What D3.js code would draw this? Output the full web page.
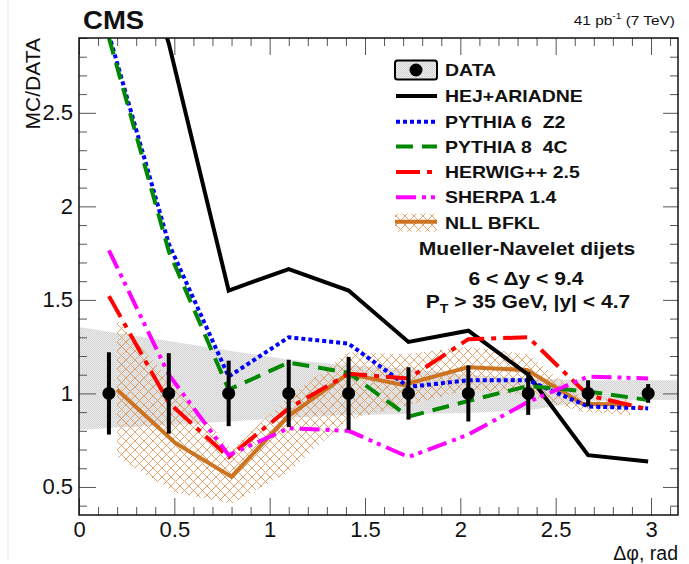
<!DOCTYPE html>
<html>
<head>
<meta charset="utf-8">
<script src="https://cdn.jsdelivr.net/npm/d3@7"></script>
<style>
  body { margin: 0; background: #fff; }
  svg { display: block; }
  text { font-family: "Liberation Sans", Arial, Helvetica, sans-serif; white-space: pre; }
</style>
</head>
<body>
<svg id="chart" width="689" height="564"></svg>
<script>
// ---- data: ratio MC/DATA versus delta-phi (10 bins in [0, pi]) ----
const dphi       = [0.157, 0.471, 0.785, 1.100, 1.414, 1.728, 2.042, 2.356, 2.670, 2.985];
const dataRatio  = [1, 1, 1, 1, 1, 1, 1, 1, 1, 1];
const dataErr    = [0.22, 0.215, 0.175, 0.18, 0.195, 0.14, 0.15, 0.115, 0.07, 0.05];

// systematic band of the data (edges included)
const sysX   = [0, 0.157, 0.471, 0.785, 1.100, 1.414, 1.728, 2.042, 2.356, 2.670, 2.985, 3.1416];
const sysUp  = [1.355, 1.33, 1.28, 1.23, 1.18, 1.15, 1.13, 1.10, 1.08, 1.07, 1.07, 1.07];
const sysLow = [0.805, 0.815, 0.83, 0.85, 0.87, 0.885, 0.89, 0.895, 0.91, 0.96, 0.965, 0.965];

// generator predictions
const hejAriadne = [3.9, 2.87, 1.55, 1.665, 1.55, 1.275, 1.335, 1.10, 0.67, 0.636];
const pythia6Z2  = [2.92, 1.80, 1.09, 1.30, 1.266, 1.035, 1.07, 1.07, 0.93, 0.92];
const pythia84C  = [2.90, 1.76, 1.02, 1.165, 1.11, 0.876, 0.96, 1.04, 1.01, 0.965];
const herwig25   = [1.52, 0.95, 0.66, 0.92, 1.105, 1.08, 1.29, 1.30, 0.99, 0.915];
const sherpa14   = [1.765, 1.10, 0.67, 0.814, 0.80, 0.66, 0.78, 0.955, 1.09, 1.08];

// NLL BFKL calculation with its uncertainty band
const bfklX   = [0.20, 0.505, 0.80, 1.10, 1.41, 1.70, 2.04, 2.35, 2.64, 2.89];
const bfklMid = [1.02, 0.735, 0.555, 0.88, 1.105, 1.045, 1.14, 1.125, 0.945, 0.94];
const bfklUp  = [1.39, 1.04, 0.70, 0.98, 1.22, 1.21, 1.25, 1.21, 0.98, 0.965];
const bfklLow = [0.66, 0.47, 0.41, 0.58, 0.86, 0.93, 1.02, 0.99, 0.90, 0.885];

// axis ticks
const xTicks = [0, 0.5, 1, 1.5, 2, 2.5, 3];
const yTicks = [0.5, 1, 1.5, 2, 2.5];

// legend entries
const legendLabels = ["DATA", "HEJ+ARIADNE", "PYTHIA 6  Z2", "PYTHIA 8  4C", "HERWIG++ 2.5", "SHERPA 1.4", "NLL BFKL"];

// ---- layout ----
const frame = { left: 79, right: 678, top: 38, bottom: 515 };
const svg = d3.select("#chart");

const x = d3.scaleLinear().domain([0, Math.PI]).range([frame.left, frame.right]);
const y = d3.scaleLinear().domain([0.35, 2.9]).range([frame.bottom, frame.top]);

const defs = svg.append("defs");
defs.append("clipPath").attr("id", "plotClip")
  .append("rect")
  .attr("x", frame.left).attr("y", frame.top)
  .attr("width", frame.right - frame.left).attr("height", frame.bottom - frame.top);

// stippled grey fill for the data systematic band
const stip = defs.append("pattern").attr("id", "stipple")
  .attr("width", 2).attr("height", 2).attr("patternUnits", "userSpaceOnUse");
stip.append("rect").attr("width", 2).attr("height", 2).attr("fill", "#ececec");
stip.append("rect").attr("x", 0).attr("y", 0).attr("width", 1).attr("height", 1).attr("fill", "#cfcfcf");
stip.append("rect").attr("x", 1).attr("y", 1).attr("width", 1).attr("height", 1).attr("fill", "#d8d8d8");

// orange cross hatch for the BFKL band
const hatch = defs.append("pattern").attr("id", "crossHatch")
  .attr("width", 9).attr("height", 9).attr("patternUnits", "userSpaceOnUse");
hatch.append("path")
  .attr("d", "M0,0L9,9M9,0L0,9")
  .attr("stroke", "#dc9a5e").attr("stroke-width", 0.9).attr("fill", "none");

// faint vertical line along the left margin
svg.append("line")
  .attr("x1", 8).attr("x2", 8).attr("y1", 0).attr("y2", 560)
  .attr("stroke", "#f4def4").attr("stroke-width", 1);

const plot = svg.append("g").attr("clip-path", "url(#plotClip)");

// data systematic band
const sysArea = d3.area()
  .x((d, i) => x(sysX[i]))
  .y0((d, i) => y(sysLow[i]))
  .y1((d, i) => y(sysUp[i]));
plot.append("path").datum(sysX).attr("d", sysArea).attr("fill", "url(#stipple)");

// BFKL uncertainty band
const bfklArea = d3.area()
  .x((d, i) => x(bfklX[i]))
  .y0((d, i) => y(bfklLow[i]))
  .y1((d, i) => y(bfklUp[i]));
plot.append("path").datum(bfklX).attr("d", bfklArea).attr("fill", "url(#crossHatch)");

// model curves
const series = [
  { name: "bfkl",   xs: bfklX, ys: bfklMid,    color: "#cc7422", dash: null },
  { name: "hej",    xs: dphi,  ys: hejAriadne, color: "#000000", dash: null },
  { name: "py6",    xs: dphi,  ys: pythia6Z2,  color: "#0000ff", dash: "4,3" },
  { name: "py8",    xs: dphi,  ys: pythia84C,  color: "#008800", dash: "17,9" },
  { name: "herwig", xs: dphi,  ys: herwig25,   color: "#ff0000", dash: "24,7,5,7" },
  { name: "sherpa", xs: dphi,  ys: sherpa14,   color: "#ff00ff", dash: "20,6,4,5,4,6" }
];

series.forEach(s => {
  const line = d3.line().x((d, i) => x(s.xs[i])).y(d => y(d));
  plot.append("path")
    .datum(s.ys)
    .attr("d", line)
    .attr("fill", "none")
    .attr("stroke", s.color)
    .attr("stroke-width", 4)
    .attr("stroke-linejoin", "miter")
    .attr("stroke-dasharray", s.dash);
});

// data points with error bars
const pts = plot.append("g");
dphi.forEach((d, i) => {
  pts.append("line")
    .attr("x1", x(d)).attr("x2", x(d))
    .attr("y1", y(dataRatio[i] - dataErr[i]))
    .attr("y2", y(dataRatio[i] + dataErr[i]))
    .attr("stroke", "#000").attr("stroke-width", 4);
  pts.append("circle")
    .attr("cx", x(d)).attr("cy", y(dataRatio[i]))
    .attr("r", 6.5).attr("fill", "#000");
});

// ---- axes (ticks pointing inward, on all four sides) ----
const fmt = d3.format("~g");
const tickColor = "#555";

function styleAxis(g) {
  g.select(".domain").remove();
  g.selectAll(".tick line").attr("stroke", tickColor).attr("stroke-width", 1);
  g.selectAll("text")
    .attr("fill", "#111")
    .style("font-family", "'Liberation Sans', Arial, sans-serif")
    .style("font-size", "22px");
}

const xMinor = d3.range(0, 3.15, 0.1).filter(v => Math.abs(v * 2 - Math.round(v * 2)) > 1e-6);
const yMinor = d3.range(0.4, 2.95, 0.1).filter(v => Math.abs(v * 2 - Math.round(v * 2)) > 1e-6);

// bottom
svg.append("g").attr("transform", `translate(0,${frame.bottom})`)
  .call(d3.axisBottom(x).tickValues(xTicks).tickFormat(fmt).tickSize(-17).tickPadding(6.6))
  .call(styleAxis);
svg.append("g").attr("transform", `translate(0,${frame.bottom})`)
  .call(d3.axisBottom(x).tickValues(xMinor).tickFormat("").tickSize(-8))
  .call(styleAxis);
// top
svg.append("g").attr("transform", `translate(0,${frame.top})`)
  .call(d3.axisTop(x).tickValues(xTicks).tickFormat("").tickSize(-17))
  .call(styleAxis);
svg.append("g").attr("transform", `translate(0,${frame.top})`)
  .call(d3.axisTop(x).tickValues(xMinor).tickFormat("").tickSize(-8))
  .call(styleAxis);
// left
svg.append("g").attr("transform", `translate(${frame.left},0)`)
  .call(d3.axisLeft(y).tickValues(yTicks).tickFormat(fmt).tickSize(-17).tickPadding(6))
  .call(styleAxis);
svg.append("g").attr("transform", `translate(${frame.left},0)`)
  .call(d3.axisLeft(y).tickValues(yMinor).tickFormat("").tickSize(-8))
  .call(styleAxis);
// right
svg.append("g").attr("transform", `translate(${frame.right},0)`)
  .call(d3.axisRight(y).tickValues(yTicks).tickFormat("").tickSize(-15))
  .call(styleAxis);
svg.append("g").attr("transform", `translate(${frame.right},0)`)
  .call(d3.axisRight(y).tickValues(yMinor).tickFormat("").tickSize(-8))
  .call(styleAxis);

// frame
svg.append("rect")
  .attr("x", frame.left).attr("y", frame.top)
  .attr("width", frame.right - frame.left).attr("height", frame.bottom - frame.top)
  .attr("fill", "none").attr("stroke", "#111").attr("stroke-width", 1.5);

// ---- axis titles ----
svg.append("text")
  .attr("transform", `translate(40,${frame.top}) rotate(-90)`)
  .attr("text-anchor", "end")
  .style("font-size", "21px")
  .attr("fill", "#111")
  .text("MC/DATA");

svg.append("text")
  .attr("x", frame.right).attr("y", 560)
  .attr("text-anchor", "end")
  .style("font-size", "19.5px")
  .attr("fill", "#111")
  .text("\u0394\u03c6, rad");

// ---- header texts ----
function wideText(parent, px, py, sx, size, anchor) {
  const g = parent.append("g").attr("transform", `translate(${px},${py}) scale(${sx},1)`);
  return g.append("text")
    .attr("x", 0).attr("y", 0)
    .attr("text-anchor", anchor)
    .style("font-size", size + "px")
    .style("font-weight", "bold")
    .attr("fill", "#111");
}

wideText(svg, 83, 29, 1.06, 26, "start").text("CMS");

const lumi = svg.append("g").attr("transform", "translate(675,25) scale(1.14,1)")
  .append("text").attr("text-anchor", "end").style("font-size", "13.5px").attr("fill", "#111");
lumi.append("tspan").text("41 pb");
lumi.append("tspan").attr("dy", -6).style("font-size", "9px").text("-1");
lumi.append("tspan").attr("dy", 6).text(" (7 TeV)");

// ---- legend ----
const legend = svg.append("g");
const rowY = [70, 96, 121.7, 146.5, 172, 197.3, 222.7];
const symX0 = 395, symX1 = 437, textX = 445;

legendLabels.forEach((lab, i) => {
  wideText(legend, textX, rowY[i] + 6, 1.18, 16.5, "start").text(lab);
});

// DATA symbol: band box with marker
legend.append("rect")
  .attr("x", symX0).attr("y", rowY[0] - 9.5)
  .attr("width", symX1 - symX0).attr("height", 19).attr("rx", 2.5)
  .attr("fill", "url(#stipple)").attr("stroke", "#000").attr("stroke-width", 2);
legend.append("circle")
  .attr("cx", (symX0 + symX1) / 2).attr("cy", rowY[0]).attr("r", 6.5).attr("fill", "#000");

// line symbols
series.slice(1).forEach((s, k) => {
  legend.append("line")
    .attr("x1", symX0 + 1).attr("x2", symX1)
    .attr("y1", rowY[k + 1]).attr("y2", rowY[k + 1])
    .attr("stroke", s.color).attr("stroke-width", 4)
    .attr("stroke-dasharray", s.dash);
});

// BFKL symbol: hatched box with central line
legend.append("rect")
  .attr("x", symX0).attr("y", rowY[6] - 9)
  .attr("width", symX1 - symX0).attr("height", 18)
  .attr("fill", "url(#crossHatch)");
legend.append("line")
  .attr("x1", symX0).attr("x2", symX1)
  .attr("y1", rowY[6] - 1).attr("y2", rowY[6] - 1)
  .attr("stroke", series[0].color).attr("stroke-width", 4);

// selection description
wideText(svg, 527, 255, 1.17, 18, "middle").text("Mueller-Navelet dijets");
wideText(svg, 526, 285, 1.17, 18, "middle").text("6 < \u0394y < 9.4");
const sel = wideText(svg, 528, 308, 1.17, 18, "middle");
sel.append("tspan").text("P");
sel.append("tspan").attr("dy", 5).style("font-size", "12px").text("T");
sel.append("tspan").attr("dy", -5).text(" > 35 GeV, |y| < 4.7");
</script>
</body>
</html>
